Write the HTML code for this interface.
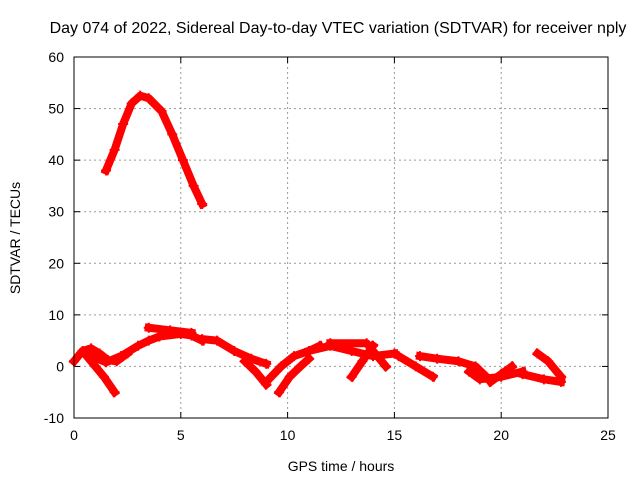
<!DOCTYPE html>
<html><head><meta charset="utf-8"><style>
body{margin:0;background:#fff;}
svg{display:block;font-family:"Liberation Sans",sans-serif;}
</style></head><body>
<svg id="chart" width="640" height="480">
<text x="338" y="33" font-size="16" text-anchor="middle">Day 074 of 2022, Sidereal Day-to-day VTEC variation (SDTVAR) for receiver nply</text>
<text x="341" y="471" font-size="14" text-anchor="middle">GPS time / hours</text>
<text transform="translate(20,238) rotate(-90)" font-size="14" text-anchor="middle">SDTVAR / TECUs</text>
<g id="grid"></g><g id="ticks"></g><g id="series"></g>
<rect x="74" y="57" width="534" height="361" fill="none" stroke="#000" stroke-width="1"/>
</svg>
<script>
const xTicks=[0,5,10,15,20,25];
const yTicks=[-10,0,10,20,30,40,50,60];
const arcBig=[[1.5,38],[1.9,42],[2.3,47],[2.7,51],[3.1,52.5],[3.5,52],[4.1,49.5],[4.6,45],[5.1,40],[5.6,35],[6.0,31.5]];
const arcA=[[0,1],[0.4,3],[0.8,3.5],[1.2,2.5],[1.6,1.2],[2.0,1],[2.5,2.5]];
const arcB=[[0.6,2],[1.0,0],[1.4,-2],[1.9,-5]];
const arcC=[[0.8,2],[1.5,0.8],[2.2,2],[3,4],[3.5,5],[4,5.8],[5,6.3],[5.5,6],[6,5]];
const arcD=[[3.5,7.5],[4.5,7],[5.5,6.5]];
const arcE=[[6,5.3],[6.7,5],[7.5,3],[8.3,1.5],[9,0.5]];
const arcF=[[8,1],[8.5,-1],[9,-3.5]];
const arcG=[[9,-3],[9.7,0],[10.3,2],[11,3],[11.5,4]];
const arcH=[[9.6,-5],[10.1,-2],[10.6,0],[11,1.5]];
const arcI=[[11,3],[12,4],[13,3],[14,2],[15,2.5]];
const arcJ=[[12,4.5],[13.7,4.5],[14.2,2],[14.6,0]];
const arcK=[[13,-2],[13.5,1],[14,4]];
const arcL=[[15.2,2],[16,0],[16.8,-2]];
const arcM=[[16.2,2],[17,1.5],[18,1],[18.8,0],[19.3,-2]];
const arcN=[[18.5,-1],[19,-2.5],[20,-2],[21,-1]];
const arcO=[[19.5,-3],[20,-1.5],[20.5,0]];
const arcP=[[21.7,2.5],[22.2,1],[22.8,-2]];
const arcQ=[[21,-1.5],[22,-2.5],[22.8,-3]];
const allSeries=[arcBig,arcA,arcB,arcC,arcD,arcE,arcF,arcG,arcH,arcI,arcJ,arcK,arcL,arcM,arcN,arcO,arcP,arcQ];
const NS="http://www.w3.org/2000/svg";
const X0=74,X1=608,Y0=418,Y1=57;
function xs(v){return X0+(v-0)/(25-0)*(X1-X0);}
function ys(v){return Y0-(v+10)/(70)*(Y0-Y1);}
function mk(t,a,p){const e=document.createElementNS(NS,t);for(const k in a)e.setAttribute(k,a[k]);p.appendChild(e);return e;}
const grid=document.getElementById('grid'),ticks=document.getElementById('ticks'),ser=document.getElementById('series');
xTicks.forEach(t=>{const x=xs(t);
 if(t>0&&t<25){const l=mk('line',{x1:x,x2:x,y1:Y1,y2:Y0,stroke:'#999','stroke-dasharray':'2,3'},grid);
 
 }
 mk('line',{x1:x,x2:x,y1:Y0,y2:Y0-6,stroke:'#000'},ticks);
 mk('line',{x1:x,x2:x,y1:Y1,y2:Y1+6,stroke:'#000'},ticks);
 const tx=mk('text',{x:x,y:Y0+22,'font-size':14,'text-anchor':'middle'},ticks);tx.textContent=t;
 
 
});
yTicks.forEach(t=>{const y=ys(t);
 if(t>-10&&t<60){const l=mk('line',{x1:X0,x2:X1,y1:y,y2:y,stroke:'#999','stroke-dasharray':'2,3'},grid);
 
 }
 mk('line',{x1:X0,x2:X0+6,y1:y,y2:y,stroke:'#000'},ticks);
 mk('line',{x1:X1,x2:X1-6,y1:y,y2:y,stroke:'#000'},ticks);
 const tx=mk('text',{x:X0-10,y:y+5,'font-size':14,'text-anchor':'end'},ticks);tx.textContent=t;
 
 
});
allSeries.forEach(s=>{
 const pts=s.map(p=>xs(p[0])+','+ys(p[1])).join(' ');
 const pl=mk('polyline',{points:pts,fill:'none',stroke:'#f00','stroke-width':8,'stroke-linejoin':'round','stroke-linecap':'square'},ser);
 
 
 s.forEach(p=>{const x=xs(p[0]),y=ys(p[1]);
  const m=mk('path',{d:`M${x-5},${y}H${x+5}M${x},${y-5}V${y+5}`,stroke:'#f00','stroke-width':2},ser);
  
  
 });
});
</script>
</body></html>
